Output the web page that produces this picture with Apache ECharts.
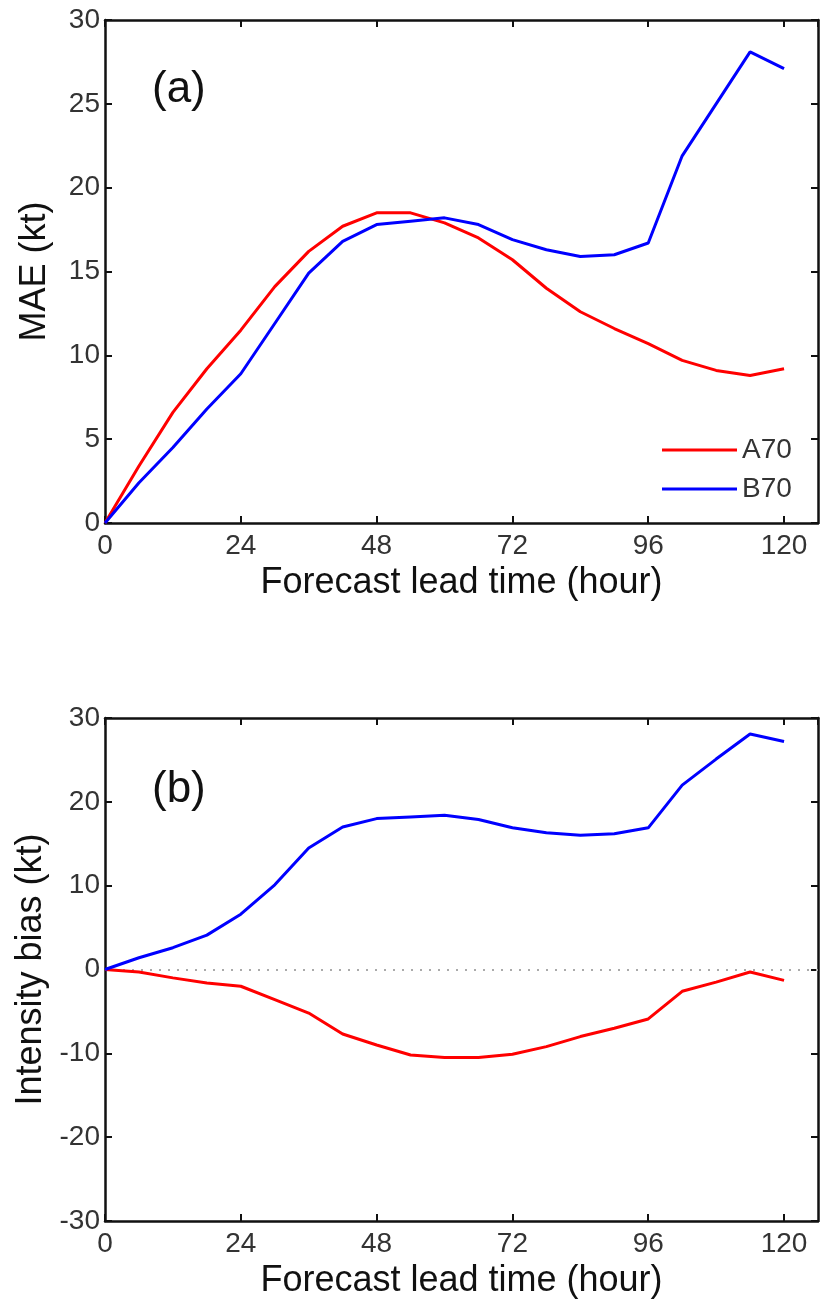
<!DOCTYPE html>
<html>
<head>
<meta charset="utf-8">
<script src="https://cdn.jsdelivr.net/npm/echarts@6/dist/echarts.min.js"></script>
<style>
html,body{margin:0;padding:0;background:#fff;}
#chart{width:821px;height:1306px;}
</style>
</head>
<body>
<div id="chart"></div>
<script>
var hours = [0,6,12,18,24,30,36,42,48,54,60,66,72,78,84,90,96,102,108,114,120];
var maeA70 = [0,3.4,6.6,9.2,11.5,14.1,16.2,17.7,18.5,18.5,17.9,17.0,15.7,14.0,12.6,11.6,10.7,9.7,9.1,8.8,9.2];
var maeB70 = [0,2.4,4.5,6.8,8.9,11.9,14.9,16.8,17.8,18.0,18.2,17.8,16.9,16.3,15.9,16.0,16.7,21.9,25.0,28.1,27.1];
var biasA70 = [0,-0.3,-1.0,-1.6,-2.0,-3.6,-5.2,-7.7,-9.0,-10.2,-10.5,-10.5,-10.1,-9.2,-8.0,-7.0,-5.9,-2.6,-1.5,-0.3,-1.3];
var biasB70 = [0,1.4,2.6,4.1,6.6,10.1,14.5,17.0,18.0,18.2,18.4,17.9,16.9,16.3,16.0,16.2,16.9,22.0,25.1,28.1,27.2];
var xTicks = [0,24,48,72,96,120];
var seriesNames = ['A70','B70'];
var panelLabels = ['(a)','(b)'];
var yNames = ['MAE (kt)','Intensity bias (kt)'];
var xName = 'Forecast lead time (hour)';

function pairs(v){ return hours.map(function(h,i){ return [h, v[i]]; }); }

var FONT = 'Liberation Sans, Arial, sans-serif';
var axisLine = {show:true, onZero:false, lineStyle:{color:'#111', width:2.5}};
var axisTick = {show:true, inside:true, length:7, lineStyle:{color:'#111', width:2}};

function xAxes(gi){
  return [
    {gridIndex:gi, type:'value', position:'bottom', min:0, max:126, interval:24,
     axisLine:axisLine, axisTick:axisTick, splitLine:{show:false},
     axisLabel:{show:true, showMaxLabel:false, margin:9, fontSize:28, color:'#333', fontFamily:FONT,
       formatter:function(v){ return xTicks.indexOf(v) >= 0 ? String(v) : ''; }},
     name:xName, nameLocation:'middle', nameGap:42,
     nameTextStyle:{fontSize:36, color:'#111', fontFamily:FONT}},
    {gridIndex:gi, type:'value', position:'top', min:0, max:126, interval:24,
     axisLine:axisLine, axisTick:axisTick, splitLine:{show:false}, axisLabel:{show:false}}
  ];
}
function yAxes(gi, mn, mx, iv, nm){
  return [
    {gridIndex:gi, type:'value', position:'left', min:mn, max:mx, interval:iv,
     axisLine:axisLine, axisTick:axisTick, splitLine:{show:false},
     axisLabel:{margin:5, fontSize:28, color:'#333', fontFamily:FONT},
     name:nm, nameLocation:'middle', nameGap:52, nameRotate:90,
     nameTextStyle:{fontSize:36, color:'#111', fontFamily:FONT}},
    {gridIndex:gi, type:'value', position:'right', min:mn, max:mx, interval:iv,
     axisLine:axisLine, axisTick:axisTick, splitLine:{show:false}, axisLabel:{show:false}}
  ];
}

var option = {
  backgroundColor:'#fff',
  animation:false,
  title:[
    {text:panelLabels[0], left:147, top:63, textStyle:{fontSize:44, fontWeight:'normal', color:'#111', fontFamily:FONT}},
    {text:panelLabels[1], left:147, top:763, textStyle:{fontSize:44, fontWeight:'normal', color:'#111', fontFamily:FONT}}
  ],
  legend:{
    data:seriesNames, orient:'vertical', left:657, top:431,
    icon:'rect', itemWidth:75, itemHeight:3, itemGap:11,
    textStyle:{fontSize:28, color:'#333', fontFamily:FONT},
    selectedMode:false
  },
  grid:[
    {left:105, right:3, top:20, height:503},
    {left:105, right:3, top:718, height:503}
  ],
  xAxis: xAxes(0).concat(xAxes(1)),
  yAxis: yAxes(0,0,30,5,yNames[0]).concat(yAxes(1,-30,30,10,yNames[1])),
  series:[
    {name:seriesNames[0], type:'line', xAxisIndex:0, yAxisIndex:0, data:pairs(maeA70),
     symbol:'none', lineStyle:{color:'#ff0000', width:3}, itemStyle:{color:'#ff0000'}},
    {name:seriesNames[1], type:'line', xAxisIndex:0, yAxisIndex:0, data:pairs(maeB70),
     symbol:'none', lineStyle:{color:'#0000ff', width:3}, itemStyle:{color:'#0000ff'}},
    {name:seriesNames[0], type:'line', xAxisIndex:2, yAxisIndex:2, data:pairs(biasA70),
     symbol:'none', lineStyle:{color:'#ff0000', width:3}, itemStyle:{color:'#ff0000'}, z:3,
     markLine:{silent:true, symbol:'none', label:{show:false}, z:1,
       lineStyle:{color:'#aaa', width:2, type:[2,7]}, data:[{yAxis:0}]}},
    {name:seriesNames[1], type:'line', xAxisIndex:2, yAxisIndex:2, data:pairs(biasB70),
     symbol:'none', lineStyle:{color:'#0000ff', width:3}, itemStyle:{color:'#0000ff'}}
  ]
};
var chart = echarts.init(document.getElementById('chart'), null, {renderer:'canvas'});
chart.setOption(option);
</script>
</body>
</html>
